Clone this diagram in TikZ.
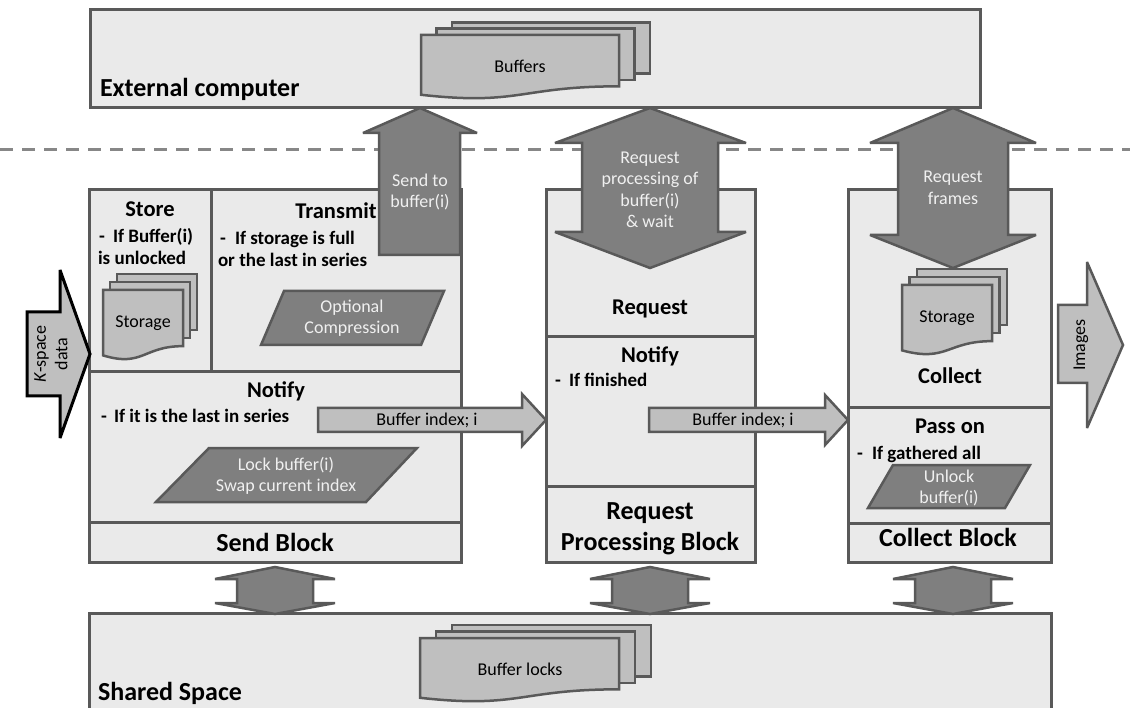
\documentclass[tikz,border=0pt]{standalone}
\usepackage{fontspec}
\setmainfont{Carlito}
\definecolor{boxfill}{RGB}{234,234,234}
\definecolor{edge}{RGB}{89,89,89}
\definecolor{darkfill}{RGB}{127,127,127}
\definecolor{lightfill}{RGB}{191,191,191}
\definecolor{paletext}{RGB}{240,240,240}
\definecolor{dashgray}{RGB}{135,135,135}

% stacked documents: x, y, width, height, layer shift x, layer shift y
\newcommand\docstack[6]{%
  \draw[docsheet] ({#1+2*#5},{#2-2*#6}) rectangle ({#1+#3+2*#5},{#2+0.802*#4-2*#6});
  \draw[docsheet] ({#1+#5},{#2-#6}) rectangle ({#1+#3+#5},{#2+0.802*#4-#6});
  \draw[docsheet] (#1,#2) -- ({#1+#3},#2) -- ({#1+#3},{#2+0.802*#4})
     .. controls ({#1+0.5*#3},{#2+0.802*#4}) and ({#1+0.5*#3},{#2+1.1075*#4}) .. (#1,{#2+0.934*#4}) -- cycle;
}
% short two-headed arrow between a block and the shared space
\newcommand\linkarrow[1]{%
  \draw[bigarrow] (#1,567) -- ({#1+60},579) -- ({#1+38},579) -- ({#1+38},603) -- ({#1+60},603)
    -- (#1,614) -- ({#1-60},603) -- ({#1-38},603) -- ({#1-38},579) -- ({#1-60},579) -- cycle;
}

\begin{document}
\begin{tikzpicture}[x=1pt,y=-1pt,
  every node/.style={inner sep=0pt, outer sep=0pt},
  panel/.style={fill=boxfill, draw=edge, line width=3pt},
  divider/.style={draw=edge, line width=3pt},
  bigarrow/.style={fill=darkfill, draw=edge, line width=2.5pt, miter limit=3},
  lightarrow/.style={fill=lightfill, draw=edge, line width=2.5pt, miter limit=3},
  docsheet/.style={fill=lightfill, draw=edge, line width=2.5pt},
  procbox/.style={fill=darkfill, draw=edge, line width=2.5pt},
  headtxt/.style={font=\bfseries\fontsize{22.5}{27}\selectfont, anchor=base},
  blocktxt/.style={font=\bfseries\fontsize{26}{31}\selectfont},
  condtxt/.style={font=\bfseries\fontsize{19}{22}\selectfont, anchor=base west},
  whitetxt/.style={font=\fontsize{18}{21.5}\selectfont, text=paletext, align=center},
  plaintxt/.style={font=\fontsize{18}{21.5}\selectfont, align=center},
]
\useasboundingbox (0,0) rectangle (1130,708);
\clip (0,0) rectangle (1130,708);

% external computer
\draw[panel] (90,10) rectangle (980,108);
\node[blocktxt, anchor=base west] (extlbl) at (100,97) {External computer};
\docstack{421}{35}{198}{64}{15.5}{6.3}
\node[plaintxt] (buffers) at (520,66) {Buffers};

% boundary between the machines
\draw[dashgray, line width=3pt, dash pattern=on 13pt off 9pt] (0,150) -- (1130,150);

% send block
\draw[panel] (89,190) rectangle (461,562);
\draw[divider] (211,190) -- (211,372);
\draw[divider] (89,372) -- (461,372);
\draw[divider] (89,522) -- (461,522);

\node[headtxt] (store) at (150,217) {Store};
\node[condtxt] (stdash) at (99,243) {-};
\node[condtxt] (st1) at (113,243) {If Buffer(i)};
\node[condtxt] (st2) at (98,265) {is unlocked};
\docstack{103}{290}{80}{70}{7}{8}
\node[plaintxt] (stor1) at (143,323) {Storage};

\node[headtxt] (transmit) at (336,219) {Transmit};
\node[condtxt] (trdash) at (220,245) {-};
\node[condtxt] (tr1) at (235,245) {If storage is full};
\node[condtxt] (tr2) at (218,267) {or the last in series};
\draw[procbox] (284,291) -- (444,291) -- (421,345) -- (261,345) -- cycle;
\node[whitetxt] (optc) at (352,318) {Optional\\Compression};

\node[headtxt] (notify1) at (276,398) {Notify};
\node[condtxt] (nfdash) at (101,423) {-};
\node[condtxt] (nf1) at (114,423) {If it is the last in series};
\draw[procbox] (209,448) -- (417,448) -- (366,502) -- (156,502) -- cycle;
\node[whitetxt] (lockbuf) at (286,476) {Lock buffer(i)\\Swap current index};
\node[blocktxt, anchor=base] (sendlbl) at (275,551) {Send Block};

% request processing block
\draw[panel] (546,190) rectangle (755,562);
\draw[divider] (546,337) -- (755,337);
\draw[divider] (546,486) -- (755,486);
\node[headtxt] (request) at (650,315) {Request};
\node[headtxt] (notify2) at (650,363) {Notify};
\node[condtxt] (fidash) at (555,387) {-};
\node[condtxt] (fi1) at (569,387) {If finished};
\node[blocktxt, anchor=base] (reqlbl1) at (650,519) {Request};
\node[blocktxt, anchor=base] (reqlbl2) at (650,550) {Processing Block};

% collect block
\draw[panel] (848,190) rectangle (1051,562);
\draw[divider] (848,408) -- (1051,408);
\draw[divider] (848,523) -- (1051,523);
\docstack{902}{285}{90}{70}{7.5}{8}
\node[plaintxt] (stor2) at (947,318) {Storage};
\node[headtxt] (collect) at (950,384) {Collect};
\node[headtxt] (passon) at (950,433) {Pass on};
\node[condtxt] (gadash) at (857,459) {-};
\node[condtxt] (ga1) at (872,459) {If gathered all};
\draw[procbox] (893,465) -- (1030,465) -- (1005,508) -- (868,508) -- cycle;
\node[whitetxt] (unlock) at (949,488) {Unlock\\buffer(i)};
\node[blocktxt, anchor=base] (collbl) at (948,546) {Collect Block};

% shared space
\draw[panel] (89,613) rectangle (1051,730);
\node[blocktxt, anchor=base west] (sharedlbl) at (98,700) {Shared Space};
\docstack{420}{638}{199}{64}{16}{6.5}
\node[plaintxt] (locks) at (520,669) {Buffer locks};

% transfers to and from the external computer
\draw[bigarrow] (420,108) -- (477,133) -- (460,133) -- (460,255) -- (379,255) -- (379,133) -- (363,133) -- cycle;
\node[whitetxt] (sendto) at (420,192) {Send to\\buffer(i)};
\draw[bigarrow] (650,108) -- (746,143) -- (718,143) -- (718,232) -- (746,232) -- (650,268)
  -- (555,232) -- (582,232) -- (582,143) -- (555,143) -- cycle;
\node[whitetxt] (reqproc) at (650,190) {Request\\processing of\\buffer(i)\\\& wait};
\draw[bigarrow] (953,108) -- (1036,143) -- (1008,143) -- (1008,235) -- (1036,235) -- (953,268)
  -- (870,235) -- (898,235) -- (898,143) -- (870,143) -- cycle;
\node[whitetxt] (reqframes) at (953,188) {Request\\frames};

% links to the shared space
\linkarrow{275}
\linkarrow{650}
\linkarrow{953}

% buffer index hand-over
\draw[lightarrow] (318,408) -- (522,408) -- (522,394) -- (546,420) -- (522,446) -- (522,432) -- (318,432) -- cycle;
\node[plaintxt] (idx1) at (427,420) {Buffer index; i};
\draw[lightarrow] (649,408) -- (825,408) -- (825,395) -- (848,420) -- (825,445) -- (825,432) -- (649,432) -- cycle;
\node[plaintxt] (idx2) at (743,420) {Buffer index; i};

% input and output
\draw[fill=lightfill, draw=black, line width=3pt, miter limit=3]
  (27,312) -- (60,312) -- (60,270) -- (90,354) -- (60,438) -- (60,396) -- (27,396) -- cycle;
\node[plaintxt, rotate=90] (kspace) at (51,354) {\textit{K}-space\\data};
\draw[lightarrow] (1058,305) -- (1087,305) -- (1087,262) -- (1123,345) -- (1087,428) -- (1087,383) -- (1058,383) -- cycle;
\node[plaintxt, rotate=90] (images) at (1081,345) {Images};
\end{tikzpicture}
\end{document}
